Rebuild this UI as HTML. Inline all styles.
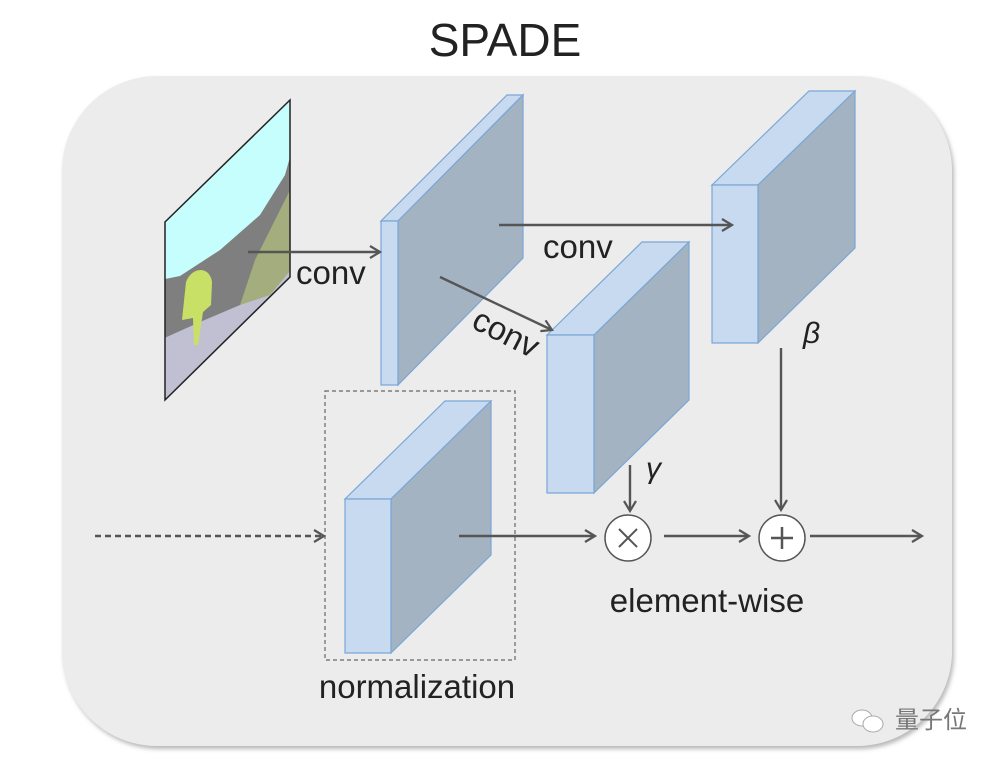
<!DOCTYPE html>
<html><head><meta charset="utf-8"><style>
html,body{margin:0;padding:0;background:#fff;}
svg{display:block;}
text{font-family:"Liberation Sans",sans-serif;fill:#222;}
</style></head><body>
<svg width="998" height="764" viewBox="0 0 998 764" xmlns="http://www.w3.org/2000/svg">
<defs>
<marker id="ah" markerWidth="14" markerHeight="14" refX="11" refY="7" orient="auto" markerUnits="userSpaceOnUse">
<path d="M1,1 L11,7 L1,13" fill="none" stroke="#555" stroke-width="2.2"/>
</marker>
<filter id="sh" x="-5%" y="-5%" width="110%" height="110%"><feDropShadow dx="2" dy="3" stdDeviation="2" flood-color="#888" flood-opacity="0.6"/></filter>
</defs>
<rect x="62" y="76" width="890" height="670" rx="95" fill="#ececec" filter="url(#sh)"/>
<text x="505" y="56" font-size="46" text-anchor="middle">SPADE</text>

<!-- image -->
<clipPath id="cp"><polygon points="165,222 290,100 290,277 165,400"/></clipPath>
<g clip-path="url(#cp)">
<rect x="160" y="95" width="135" height="310" fill="#c6fdfd"/>
<path d="M160,280 L180,276 L220,250 L260,215 L285,175 L290,157 L295,157 L295,405 L160,405Z" fill="#7f7f7f"/>
<path d="M235,320 L255,260 L280,210 L295,180 L295,405 L235,405Z" fill="#a3ad7d"/>
<path d="M160,340 L200,322 L240,305 L270,295 L295,265 L295,405 L160,405Z" fill="#c0c0d2"/>
<path d="M186,282 C192,266 210,266 212,282 L211,305 L203,312 L198,345 L194,345 L193,318 L182,320 Z" fill="#c9e067"/>
</g>
<polygon points="165,222 290,100 290,277 165,400" fill="none" stroke="#222" stroke-width="1.5"/>

<g stroke="#7aa6d6" stroke-width="1.2">
<polygon points="381,221 398,221 523,95 507,95" fill="#c7daf0"/>
<polygon points="398,221 523,95 523,258 398,385" fill="#a4b3c2"/>
<rect x="381" y="221" width="17" height="164" fill="#c7daf0"/>
</g>
<g stroke="#7aa6d6" stroke-width="1.2">
<polygon points="547,335 594,335 689,242 642,242" fill="#c7daf0"/>
<polygon points="594,335 689,242 689,400 594,493" fill="#a4b3c2"/>
<rect x="547" y="335" width="47" height="158" fill="#c7daf0"/>
</g>
<g stroke="#7aa6d6" stroke-width="1.2">
<polygon points="712,185 758,185 855,91 809,91" fill="#c7daf0"/>
<polygon points="758,185 855,91 855,248 758,343" fill="#a4b3c2"/>
<rect x="712" y="185" width="46" height="158" fill="#c7daf0"/>
</g>
<rect x="325" y="391" width="190" height="269" fill="none" stroke="#666" stroke-width="1.2" stroke-dasharray="4,3"/>
<g stroke="#7aa6d6" stroke-width="1.2">
<polygon points="345,499 391,499 491,401 445,401" fill="#c7daf0"/>
<polygon points="391,499 491,401 491,555 391,653" fill="#a4b3c2"/>
<rect x="345" y="499" width="46" height="154" fill="#c7daf0"/>
</g>

<g stroke="#555" stroke-width="2.4" fill="none">
<line x1="248" y1="252" x2="380" y2="252" marker-end="url(#ah)"/>
<line x1="499" y1="225" x2="732" y2="225" marker-end="url(#ah)"/>
<line x1="440" y1="277" x2="552" y2="330" marker-end="url(#ah)"/>
<line x1="630" y1="465" x2="630" y2="511" marker-end="url(#ah)"/>
<line x1="781" y1="348" x2="781" y2="510" marker-end="url(#ah)"/>
<line x1="95" y1="536" x2="324" y2="536" stroke-dasharray="6,4" marker-end="url(#ah)"/>
<line x1="459" y1="536" x2="595" y2="536" marker-end="url(#ah)"/>
<line x1="664" y1="536" x2="749" y2="536" marker-end="url(#ah)"/>
<line x1="810" y1="536" x2="922" y2="536" marker-end="url(#ah)"/>
</g>
<circle cx="628" cy="538" r="23" fill="#fff" stroke="#555" stroke-width="1.5"/>
<path d="M619,529 L637,547 M637,529 L619,547" stroke="#555" stroke-width="2"/>
<circle cx="782" cy="538" r="23" fill="#fff" stroke="#555" stroke-width="1.5"/>
<path d="M782,527 V549 M771,538 H793" stroke="#555" stroke-width="2.5"/>

<text x="296" y="284" font-size="33">conv</text>
<text x="543" y="258" font-size="33">conv</text>
<text x="470" y="327" font-size="33" transform="rotate(27 470 327)">conv</text>
<text x="646" y="478" font-size="30" font-style="italic" font-family="Liberation Serif,serif">γ</text>
<text x="803" y="343" font-size="30" font-style="italic" font-family="Liberation Serif,serif">β</text>
<text x="707" y="612" font-size="33" text-anchor="middle">element-wise</text>
<text x="417" y="698" font-size="33" text-anchor="middle">normalization</text>
<text x="895" y="728" font-size="24" style="fill:#777" font-family="Noto Sans CJK SC,sans-serif">量子位</text>
<ellipse cx="862" cy="718" rx="10" ry="8" fill="#fff" stroke="#aaa"/>
<ellipse cx="873" cy="724" rx="10" ry="8" fill="#fff" stroke="#aaa"/>
</svg>
</body></html>
